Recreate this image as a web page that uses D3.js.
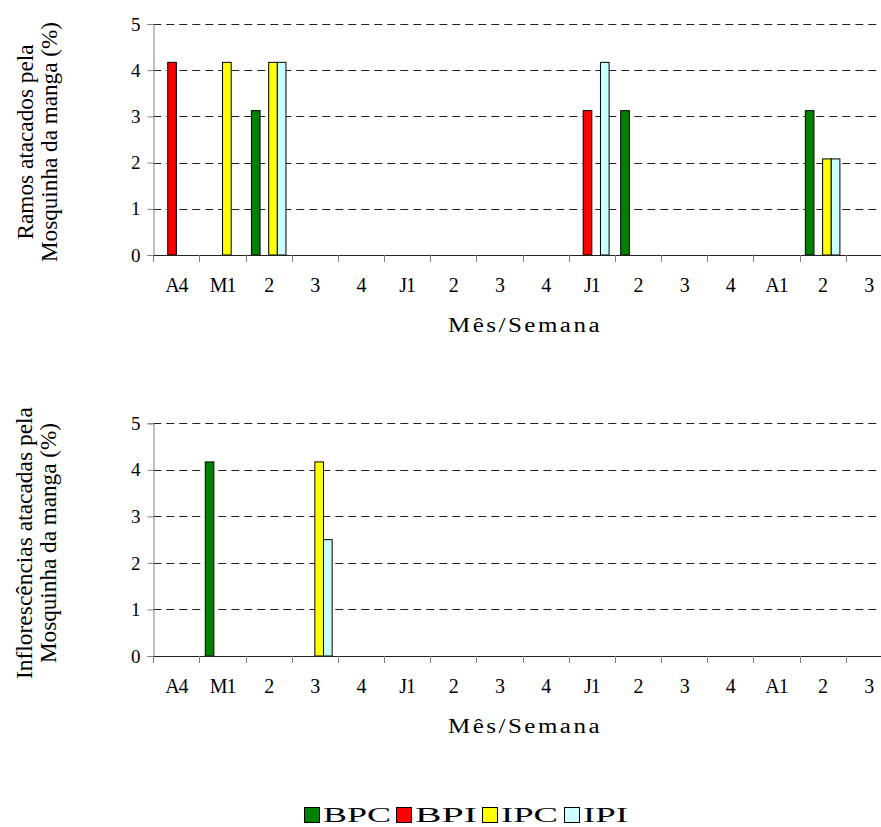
<!DOCTYPE html>
<html>
<head>
<meta charset="utf-8">
<script src="https://cdn.jsdelivr.net/npm/d3@7/dist/d3.min.js"></script>
<style>
  html, body { margin: 0; padding: 0; background: #fff; }
  svg { display: block; }
  svg text { font-family: "Liberation Serif", "Times New Roman", serif !important; fill: #000; }
</style>
</head>
<body>
<svg id="chart" width="881" height="827" font-family="Liberation Serif, serif"></svg>
<script>
// ---- data ----
const categories = ["A4", "M1", "2", "3", "4", "J1", "2", "3", "4", "J1", "2", "3", "4", "A1", "2", "3"];
const seriesNames = ["BPC", "BPI", "IPC", "IPI"];
const seriesColors = ["#008000", "#FF0000", "#FFFF00", "#CCFFFF"];
const yTicks = [0, 1, 2, 3, 4, 5];

// Ramos atacados (top chart)
const ramosBPC = [0, 0, 3.125, 0, 0, 0, 0, 0, 0, 0, 3.125, 0, 0, 0, 3.125, 0];
const ramosBPI = [4.17, 0, 0, 0, 0, 0, 0, 0, 0, 3.125, 0, 0, 0, 0, 0, 0];
const ramosIPC = [0, 4.17, 4.17, 0, 0, 0, 0, 0, 0, 0, 0, 0, 0, 0, 2.08, 0];
const ramosIPI = [0, 0, 4.17, 0, 0, 0, 0, 0, 0, 4.17, 0, 0, 0, 0, 2.08, 0];

// Inflorescências atacadas (bottom chart)
const inflBPC = [0, 4.17, 0, 0, 0, 0, 0, 0, 0, 0, 0, 0, 0, 0, 0, 0];
const inflBPI = [0, 0, 0, 0, 0, 0, 0, 0, 0, 0, 0, 0, 0, 0, 0, 0];
const inflIPC = [0, 0, 0, 4.17, 0, 0, 0, 0, 0, 0, 0, 0, 0, 0, 0, 0];
const inflIPI = [0, 0, 0, 2.5, 0, 0, 0, 0, 0, 0, 0, 0, 0, 0, 0, 0];

const SERIF = "'Liberation Serif', 'Times New Roman', serif";
const svg = d3.select("#chart");

function drawPanel(cfg) {
  const g = svg.append("g");
  const x0 = cfg.left, catW = 46.16;
  const x = d3.scaleBand().domain(d3.range(categories.length))
    .range([x0, x0 + catW * categories.length]).padding(0);
  const x1 = d3.scaleBand().domain(seriesNames).range([5.8, catW - 5.8]).padding(0);
  const y = d3.scaleLinear().domain([0, 5]).range([cfg.bottom, cfg.top]);
  const xEnd = x0 + catW * categories.length;

  // gridlines
  g.append("g").selectAll("line").data(yTicks.filter(d => d > 0)).join("line")
    .attr("x1", x0).attr("x2", xEnd)
    .attr("y1", d => Math.round(y(d)) + 0.5).attr("y2", d => Math.round(y(d)) + 0.5)
    .attr("stroke", "#222").attr("stroke-width", 1).attr("stroke-dasharray", "8,5");

  // y axis
  const yAxis = g.append("g").attr("transform", `translate(${Math.round(x0) + 0.5},0)`)
    .call(d3.axisLeft(y).tickValues(yTicks).tickSize(6).tickPadding(7).tickFormat(d3.format("d")));
  yAxis.attr("font-family", null);
  yAxis.select(".domain").attr("stroke", "#808080");
  yAxis.selectAll(".tick line").attr("stroke", "#808080");
  yAxis.selectAll(".tick text").attr("font-size", 19).style("font-family", SERIF);

  // bars
  const seriesData = cfg.series;
  seriesNames.forEach((s, si) => {
    const vals = seriesData[si];
    g.append("g").selectAll("rect")
      .data(vals.map((v, i) => ({ i, v })).filter(d => d.v > 0)).join("rect")
      .attr("x", d => x(d.i) + x1(s))
      .attr("width", x1.bandwidth())
      .attr("y", d => y(d.v))
      .attr("height", d => y(0) - y(d.v))
      .attr("fill", seriesColors[si])
      .attr("stroke", "#000").attr("stroke-width", 1);
  });

  // x axis line
  g.append("line").attr("x1", x0).attr("x2", xEnd)
    .attr("y1", Math.round(y(0)) + 0.5).attr("y2", Math.round(y(0)) + 0.5)
    .attr("stroke", "#222").attr("stroke-width", 1);
  // x ticks at category boundaries
  g.append("g").selectAll("line").data(d3.range(categories.length + 1)).join("line")
    .attr("x1", i => Math.round(x0 + i * catW) + 0.5).attr("x2", i => Math.round(x0 + i * catW) + 0.5)
    .attr("y1", Math.round(y(0))).attr("y2", Math.round(y(0)) + 7)
    .attr("stroke", "#808080");
  // x labels
  const xAxis = g.append("g").attr("transform", `translate(0,${cfg.bottom})`)
    .call(d3.axisBottom(x).tickSize(0).tickPadding(23).tickFormat(i => categories[i]));
  xAxis.attr("font-family", null);
  xAxis.select(".domain").remove();
  xAxis.selectAll(".tick text").attr("font-size", 20).style("font-family", SERIF)
    .attr("letter-spacing", -1);

  // x title
  g.append("text").attr("x", 525).attr("y", cfg.xTitleY)
    .attr("text-anchor", "middle").attr("font-size", 20).style("font-family", SERIF)
    .attr("letter-spacing", 2)
    .attr("textLength", 154).attr("lengthAdjust", "spacingAndGlyphs")
    .text("Mês/Semana");

  // y title (two lines)
  cfg.yTitle.forEach((t) => {
    g.append("text")
      .attr("transform", `translate(${t.x},${cfg.titleCY}) rotate(-90)`)
      .attr("text-anchor", "middle").attr("font-size", 23).style("font-family", SERIF)
      .attr("textLength", t.len).attr("lengthAdjust", "spacingAndGlyphs")
      .text(t.text);
  });
}

drawPanel({
  left: 153.3, top: 24, bottom: 255, xTitleY: 332, titleCY: 142,
  series: [ramosBPC, ramosBPI, ramosIPC, ramosIPI],
  yTitle: [
    { text: "Ramos atacados pela", x: 33, len: 195 },
    { text: "Mosquinha da manga (%)", x: 57, len: 240 }
  ]
});

drawPanel({
  left: 153.3, top: 423.3, bottom: 656, xTitleY: 733, titleCY: 543,
  series: [inflBPC, inflBPI, inflIPC, inflIPI],
  yTitle: [
    { text: "Inflorescências atacadas pela", x: 32, len: 272 },
    { text: "Mosquinha da manga (%)", x: 56, len: 240 }
  ]
});

// legend
const legendPos = [
  { sq: 304, tx: 323, len: 68 },
  { sq: 396, tx: 415, len: 62 },
  { sq: 482, tx: 501, len: 57 },
  { sq: 564, tx: 583, len: 45 }
];
const leg = svg.append("g");
seriesNames.forEach((s, i) => {
  leg.append("rect").attr("x", legendPos[i].sq + 0.5).attr("y", 807.5)
    .attr("width", 15).attr("height", 15)
    .attr("fill", seriesColors[i]).attr("stroke", "#000").attr("stroke-width", 1);
  leg.append("text").attr("x", legendPos[i].tx).attr("y", 822)
    .attr("font-size", 21).style("font-family", SERIF).attr("textLength", legendPos[i].len)
    .attr("lengthAdjust", "spacingAndGlyphs").text(s);
});
</script>
</body>
</html>
